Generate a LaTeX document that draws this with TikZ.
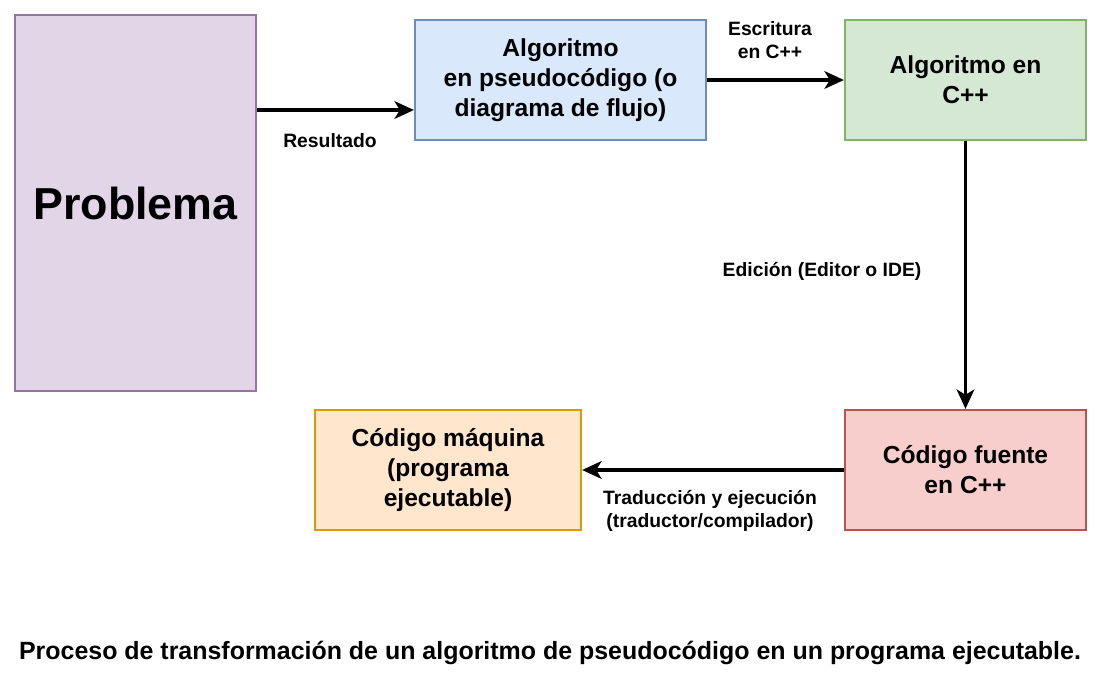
\documentclass[tikz,border=0pt]{standalone}
\usepackage{fontspec}
\setmainfont{Liberation Sans}
\usetikzlibrary{arrows.meta,positioning}

\definecolor{lilafill}{HTML}{E1D5E7}
\definecolor{lilaline}{HTML}{9673A6}
\definecolor{azulfill}{HTML}{DAE8FC}
\definecolor{azulline}{HTML}{6C8EBF}
\definecolor{verdefill}{HTML}{D5E8D4}
\definecolor{verdeline}{HTML}{82B366}
\definecolor{rojofill}{HTML}{F8CECC}
\definecolor{rojoline}{HTML}{B85450}
\definecolor{naranjafill}{HTML}{FFE6CC}
\definecolor{naranjaline}{HTML}{D79B00}

\begin{document}
\begin{tikzpicture}[x=0.02cm,y=-0.02cm,
    flecha/.style={line width=2pt,-{Stealth[length=11pt,width=10pt,inset=3pt]}},
    caja/.style={draw,line width=1.3pt,align=center,inner sep=0pt,
        minimum height=2.4cm,font=\fontsize{14}{17}\selectfont\bfseries},
    etiqueta/.style={align=center,font=\fontsize{11}{13}\selectfont\bfseries}]
    \useasboundingbox (0,0) rectangle (1100,680);
    \node[caja,fill=lilafill,draw=lilaline,minimum width=4.82cm,minimum height=7.52cm,
        font=\fontsize{25.5}{30}\selectfont\bfseries] (problema) at (135.5,203) {Problema};
    \node[caja,fill=azulfill,draw=azulline,minimum width=5.82cm] (pseudo) at (560.5,80)
        {Algoritmo\\en pseudocódigo (o\\diagrama de flujo)};
    \node[caja,fill=verdefill,draw=verdeline,minimum width=4.82cm] (cpp) at (965.5,80)
        {Algoritmo en\\C++};
    \node[caja,fill=rojofill,draw=rojoline,minimum width=4.82cm] (fuente) at (965.5,470)
        {Código fuente\\en C++};
    \node[caja,fill=naranjafill,draw=naranjaline,minimum width=5.32cm] (maquina) at (448,470)
        {Código máquina\\(programa\\ejecutable)};

    \node[etiqueta] (resultado) at (330,141) {Resultado};
    \node[etiqueta] (escritura) at (770,40) {Escritura\\en C++};
    \node[etiqueta] (edicion) at (822,271) {Edición (Editor o IDE)};
    \node[etiqueta] (traduccion) at (710,511) {Traducción y ejecución\\(traductor/compilador)};
    \node[font=\fontsize{14.2}{16}\selectfont\bfseries] (titulo) at (550,653)
        {Proceso de transformación de un algoritmo de pseudocódigo en un programa ejecutable.};

    \draw[flecha] ([yshift=-0.6cm]pseudo.west -| problema.east) -- ([yshift=-0.6cm]pseudo.west);
    \draw[flecha] (pseudo) -- (cpp);
    \draw[flecha] (cpp) -- (fuente);
    \draw[flecha] (fuente) -- (maquina);
\end{tikzpicture}
\end{document}
